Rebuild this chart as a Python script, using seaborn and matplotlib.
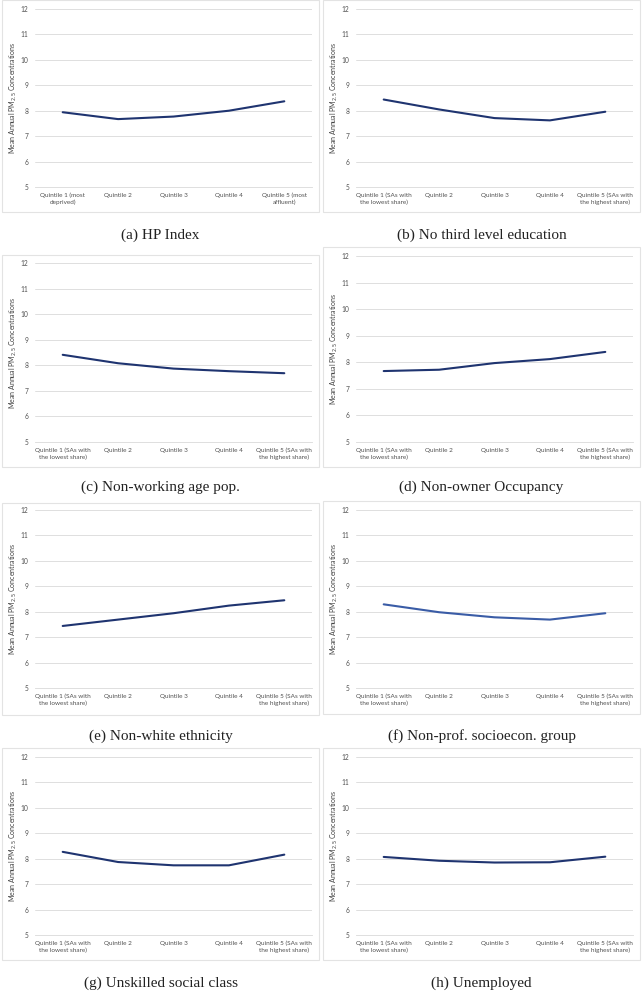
import matplotlib
matplotlib.use("Agg")
import matplotlib.pyplot as plt
from matplotlib.patches import Rectangle
import seaborn as sns
import pandas as pd

quintiles = ["Q1", "Q2", "Q3", "Q4", "Q5"]
labels_hp = ["Quintile 1 (most\ndeprived)", "Quintile 2", "Quintile 3", "Quintile 4",
             "Quintile 5 (most\naffluent)"]
labels_share = ["Quintile 1 (SAs with\nthe lowest share)", "Quintile 2", "Quintile 3", "Quintile 4",
                "Quintile 5 (SAs with\nthe highest share)"]

hp_index = [7.94, 7.67, 7.77, 8.00, 8.37]
no_third_level = [8.44, 8.05, 7.71, 7.62, 7.96]
non_working_age = [8.41, 8.08, 7.87, 7.77, 7.69]
non_owner = [7.67, 7.72, 7.97, 8.12, 8.39]
non_white = [7.44, 7.69, 7.94, 8.24, 8.45]
non_prof = [8.29, 7.98, 7.78, 7.69, 7.94]
unskilled = [8.27, 7.87, 7.74, 7.74, 8.16]
unemployed = [8.07, 7.92, 7.85, 7.86, 8.08]

titles = ["(a) HP Index", "(b) No third level education", "(c) Non-working age pop.",
          "(d) Non-owner Occupancy", "(e) Non-white ethnicity", "(f) Non-prof. socioecon. group",
          "(g) Unskilled social class", "(h) Unemployed"]
series = [hp_index, no_third_level, non_working_age, non_owner,
          non_white, non_prof, unskilled, unemployed]
xlabels = [labels_hp] + [labels_share] * 7
colors = ["#1F3470"] * 5 + ["#3A5CA6"] + ["#1F3470"] * 2

sns.set_style("white")
plt.rcParams['font.family'] = ['Lato', 'DejaVu Sans']

W, H = 642, 991
fig = plt.figure(figsize=(W / 100, H / 100), dpi=100)

# panel layout in pixels: box (top, height), axes (top, bottom)
col_x = [2, 323]
boxes = [(0, 212), (0, 212), (255, 212), (247, 220),
         (503, 212), (501, 213), (748, 212), (748, 212)]
axes_tb = [(9, 187), (9, 187), (263, 442), (256, 442),
           (510, 688), (510, 688), (757, 935), (757, 935)]
title_y = [235, 487, 736, 983]
box_w = 317
ax_w = 277

for i, (vals, title, xl, col) in enumerate(zip(series, titles, xlabels, colors)):
    r, c = divmod(i, 2)
    bx = col_x[c]
    by, bh = boxes[i]
    fig.patches.append(Rectangle((bx / W, 1 - (by + bh) / H), box_w / W, bh / H,
                                 transform=fig.transFigure, fill=False,
                                 edgecolor="#E3E3E3", linewidth=0.8))
    at, ab = axes_tb[i]
    ax = fig.add_axes([(bx + 33) / W, 1 - ab / H, ax_w / W, (ab - at) / H])
    df = pd.DataFrame({"q": quintiles, "v": vals})
    sns.lineplot(data=df, x="q", y="v", ax=ax, color=col, linewidth=1.5, sort=False)
    ax.set_xlim(-0.5, 4.5)
    ax.set_ylim(5, 12)
    ax.set_yticks(range(5, 13))
    ax.set_xticks(range(5))
    ax.set_xticklabels(xl, fontsize=4.6, color="#505050", linespacing=1.4)
    ax.tick_params(axis="y", labelsize=4.8, colors="#505050", length=0, pad=5)
    ax.tick_params(axis="x", length=0, pad=4)
    ax.grid(axis="y", color="#D9D9D9", linewidth=0.6)
    ax.set_axisbelow(True)
    for s in ["top", "right", "left"]:
        ax.spines[s].set_visible(False)
    ax.spines["bottom"].set_color("#D9D9D9")
    ax.spines["bottom"].set_linewidth(0.6)
    ax.set_xlabel("")
    ax.set_ylabel("Mean Annual PM$_{2.5}$ Concentrations", fontsize=5, color="#404040")
    ax.yaxis.set_label_coords(-15.5 / ax_w, 0.5)
    fig.text((bx + box_w / 2) / W, 1 - title_y[r] / H, title, ha="center", va="center",
             fontsize=11, family=["Liberation Serif", "DejaVu Serif"], color="#222222")

fig.savefig("out.png", dpi=100)
